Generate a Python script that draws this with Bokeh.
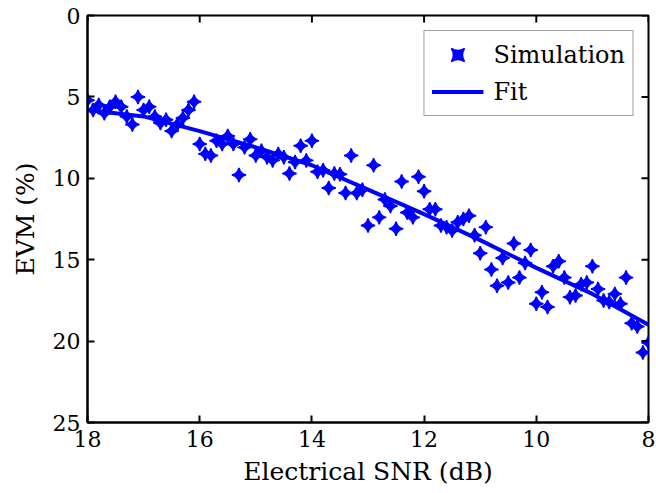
import math
from bokeh.plotting import figure
from bokeh.models import Range1d, Legend, LegendItem, FixedTicker
from bokeh.embed import file_html
from bokeh.resources import INLINE

snr = [18.0, 17.9, 17.8, 17.7, 17.6, 17.5, 17.4, 17.3, 17.2, 17.1,
       17.0, 16.9, 16.8, 16.7, 16.6, 16.5, 16.4, 16.3, 16.2, 16.1,
       16.0, 15.9, 15.8, 15.7, 15.6, 15.5, 15.4, 15.3, 15.2, 15.1,
       15.0, 14.9, 14.8, 14.7, 14.6, 14.5, 14.4, 14.3, 14.2, 14.1,
       14.0, 13.9, 13.8, 13.7, 13.6, 13.5, 13.4, 13.3, 13.2, 13.1,
       13.0, 12.9, 12.8, 12.7, 12.6, 12.5, 12.4, 12.3, 12.2, 12.1,
       12.0, 11.9, 11.8, 11.7, 11.6, 11.5, 11.4, 11.3, 11.2, 11.1,
       11.0, 10.9, 10.8, 10.7, 10.6, 10.5, 10.4, 10.3, 10.2, 10.1,
       10.0, 9.9, 9.8, 9.7, 9.6, 9.5, 9.4, 9.3, 9.2, 9.1,
       9.0, 8.9, 8.8, 8.7, 8.6, 8.5, 8.4, 8.3, 8.2, 8.1, 8.0]
evm_sim = [5.2, 5.8, 5.5, 6.0, 5.6, 5.3, 5.6, 6.2, 6.7, 5.0,
           5.8, 5.6, 6.2, 6.6, 6.4, 7.1, 6.7, 6.3, 5.8, 5.3,
           7.9, 8.5, 8.6, 7.7, 7.9, 7.4, 7.9, 9.8, 8.1, 7.6,
           8.6, 8.3, 8.7, 8.9, 8.5, 8.7, 9.7, 9.0, 8.0, 8.9,
           7.7, 9.6, 9.5, 10.6, 9.7, 9.75, 10.9, 8.6, 10.9, 10.7,
           12.9, 9.2, 12.4, 11.3, 11.7, 13.1, 10.2, 12.1, 12.4, 9.9,
           10.8, 11.9, 11.9, 12.9, 13.0, 13.2, 12.7, 12.5, 12.3, 13.5,
           14.6, 13.0, 15.6, 16.6, 14.9, 16.4, 14.0, 16.1, 15.2, 14.4,
           17.7, 17.0, 17.9, 15.4, 15.1, 16.1, 17.3, 17.2, 16.5, 16.4,
           15.4, 16.8, 17.5, 17.6, 17.1, 17.7, 16.1, 18.9, 19.1, 20.7, 20.1]

fit_snr = [18, 17, 16, 15, 14, 13, 12, 11, 10, 9, 8]
fit_evm = [5.8, 6.2, 7.1, 8.1, 9.2, 10.7, 12.2, 13.8, 15.5, 17.1, 19.0]

x_ticks = [8, 10, 12, 14, 16, 18]
y_ticks = [0, 5, 10, 15, 20, 25]
x_min, x_max = 18, 8
y_top, y_bottom = 0, 25

FONT = "DejaVu Serif"
BLUE = "#0000ff"

p = figure(width=656, height=493, output_backend="svg", toolbar_location=None,
           x_range=Range1d(x_min, x_max), y_range=Range1d(y_bottom, y_top),
           min_border_left=87, min_border_right=8, min_border_top=15, min_border_bottom=71)
p.background_fill_color = "white"
p.border_fill_color = "white"
p.grid.visible = False
p.outline_line_color = "black"
p.outline_line_width = 2

fit_r = p.line(fit_snr, fit_evm, line_color=BLUE, line_width=4)
sim_r = p.scatter(snr, evm_sim, marker="square_pin", size=10, angle=math.pi / 4,
                  fill_color=BLUE, line_color=BLUE, line_width=1.5)

# inward ticks on the top and right edges of the box
p.ray(x=x_ticks, y=[y_top] * len(x_ticks), length=7, length_units="screen",
      angle=-math.pi / 2, line_color="black", line_width=2)
p.ray(x=[x_max] * len(y_ticks), y=y_ticks, length=7, length_units="screen",
      angle=math.pi, line_color="black", line_width=2)

for ax in (p.xaxis[0], p.yaxis[0]):
    ax.major_label_text_font = FONT
    ax.major_label_text_font_size = "22px"
    ax.major_label_text_color = "black"
    ax.axis_label_text_font = FONT
    ax.axis_label_text_font_size = "25px"
    ax.axis_label_text_font_style = "normal"
    ax.axis_label_text_color = "black"
    ax.major_tick_in = 7
    ax.major_tick_out = 0
    ax.minor_tick_line_color = None
    ax.axis_line_width = 2
    ax.major_tick_line_width = 2

p.xaxis[0].ticker = FixedTicker(ticks=x_ticks)
p.yaxis[0].ticker = FixedTicker(ticks=y_ticks)
p.xaxis[0].axis_label = "Electrical SNR (dB)"
p.yaxis[0].axis_label = "EVM (%)"
p.xaxis[0].major_label_standoff = 8
p.yaxis[0].major_label_standoff = 7
p.xaxis[0].axis_label_standoff = 7
p.yaxis[0].axis_label_standoff = 10

legend = Legend(items=[LegendItem(label="Simulation", renderers=[sim_r]),
                       LegendItem(label="Fit", renderers=[fit_r])],
                location="top_right", margin=15)
legend.label_text_font = FONT
legend.label_text_font_size = "24px"
legend.label_text_color = "black"
legend.border_line_color = "#404040"
legend.border_line_width = 1.5
legend.glyph_width = 52
legend.glyph_height = 33
legend.label_height = 33
legend.spacing = 4
legend.padding = 7
legend.label_standoff = 10
p.add_layout(legend)

open("out.html", "w").write(file_html(p, INLINE))
